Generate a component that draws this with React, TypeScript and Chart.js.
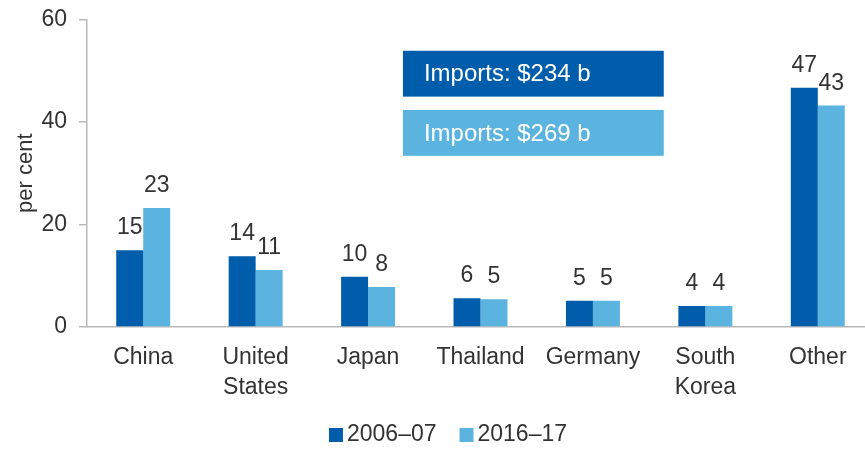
import React, { useEffect, useRef } from "react";
import { Chart, registerables } from "chart.js";

Chart.register(...registerables);

const categories: string[][] = [
  ["China"],
  ["United", "States"],
  ["Japan"],
  ["Thailand"],
  ["Germany"],
  ["South", "Korea"],
  ["Other"],
];
const seriesNames = ["2006–07", "2016–17"];
const share2006 = [15.0, 13.8, 9.8, 5.6, 5.1, 4.1, 46.7];
const share2007 = [23.2, 11.1, 7.8, 5.4, 5.1, 4.1, 43.2];
const importLabels = ["Imports: $234 b", "Imports: $269 b"];
const yTicks = [0, 20, 40, 60];
const yTitle = "per cent";

const DARK = "#005DAB";
const LIGHT = "#5BB4E0";
const TEXT = "#333333";
const AXIS = "#b9b9b9";
const FONT = "'Liberation Sans', Arial, sans-serif";

// annotation box placement in scale units (x: category index, y: value)
const boxX = [2.31, 4.63];
const boxY = [
  [53.9, 44.95],
  [42.35, 33.4],
];

const overlayPlugin = {
  id: "overlay",
  afterDatasetsDraw(chart: any) {
    const ctx = chart.ctx;
    const xs = chart.scales.x;
    const ys = chart.scales.y;
    ctx.save();
    // value labels
    ctx.font = `23px ${FONT}`;
    ctx.fillStyle = TEXT;
    ctx.textAlign = "center";
    ctx.textBaseline = "alphabetic";
    chart.data.datasets.forEach((ds: any, di: number) => {
      const meta = chart.getDatasetMeta(di);
      meta.data.forEach((bar: any, i: number) => {
        ctx.fillText(String(Math.round(ds.data[i])), bar.x, bar.y - 16);
      });
    });
    // import boxes
    importLabels.forEach((txt, i) => {
      const x0 = xs.getPixelForValue(boxX[0]);
      const x1 = xs.getPixelForValue(boxX[1]);
      const y0 = ys.getPixelForValue(boxY[i][0]);
      const y1 = ys.getPixelForValue(boxY[i][1]);
      ctx.fillStyle = i === 0 ? DARK : LIGHT;
      ctx.fillRect(x0, y0, x1 - x0, y1 - y0);
      ctx.fillStyle = "#ffffff";
      ctx.font = `24px ${FONT}`;
      ctx.textAlign = "left";
      ctx.textBaseline = "middle";
      ctx.fillText(txt, x0 + 21, (y0 + y1) / 2 + 1);
    });
    // legend
    ctx.font = `23px ${FONT}`;
    ctx.textBaseline = "middle";
    ctx.textAlign = "left";
    const box = 14;
    const gap = 4;
    const itemGap = 23;
    const widths = seriesNames.map((n) => box + gap + ctx.measureText(n).width);
    const total = widths.reduce((a, b) => a + b, 0) + itemGap;
    let lx = 448 - total / 2;
    const ly = 435;
    seriesNames.forEach((n, i) => {
      ctx.fillStyle = i === 0 ? DARK : LIGHT;
      ctx.fillRect(lx, ly - box / 2, box, box);
      ctx.fillStyle = TEXT;
      ctx.fillText(n, lx + box + gap, ly);
      lx += widths[i] + itemGap;
    });
    ctx.restore();
  },
};

export default function App() {
  const ref = useRef<HTMLCanvasElement>(null);
  useEffect(() => {
    const chart = new Chart(ref.current as HTMLCanvasElement, {
      type: "bar",
      data: {
        labels: categories,
        datasets: [
          { label: seriesNames[0], data: share2006, backgroundColor: DARK },
          { label: seriesNames[1], data: share2007, backgroundColor: LIGHT },
        ],
      },
      options: {
        responsive: false,
        animation: false,
        layout: { padding: { top: 19.5, right: 6, bottom: 0, left: 0 } },
        datasets: { bar: { categoryPercentage: 0.48, barPercentage: 1 } } as any,
        plugins: {
          legend: { display: false },
          tooltip: { enabled: false },
        },
        scales: {
          x: {
            grid: { display: false, drawTicks: false },
            border: { display: true, color: AXIS, width: 1.5 },
            ticks: {
              color: TEXT,
              font: { family: FONT, size: 23, lineHeight: 1.33 },
              padding: 15,
              maxRotation: 0,
              autoSkip: false,
            },
            afterFit: (s: any) => {
              s.height = 122;
              s.paddingLeft = 0;
              s.paddingRight = 0;
            },
          },
          y: {
            min: 0,
            max: 60,
            afterBuildTicks: (s: any) => {
              s.ticks = yTicks.map((v) => ({ value: v }));
            },
            grid: {
              drawOnChartArea: false,
              drawTicks: true,
              tickLength: 8,
              color: AXIS,
              lineWidth: 1.5,
            },
            border: { display: true, color: AXIS, width: 1.5 },
            ticks: {
              color: TEXT,
              font: { family: FONT, size: 23 },
              padding: 12,
            },
            title: {
              display: true,
              text: yTitle,
              color: TEXT,
              font: { family: FONT, size: 22 },
              padding: { top: 13, bottom: 0 },
            },
            afterFit: (s: any) => {
              s.width = 87;
              s.paddingTop = 0;
              s.paddingBottom = 0;
            },
          },
        },
      },
      plugins: [overlayPlugin],
    });
    return () => chart.destroy();
  }, []);
  return (
    <div
      style={{
        position: "fixed",
        left: 0,
        top: 0,
        width: 865,
        height: 449,
        overflow: "hidden",
        background: "#ffffff",
      }}
    >
      <canvas ref={ref} width={880} height={449} style={{ display: "block" }} />
    </div>
  );
}
